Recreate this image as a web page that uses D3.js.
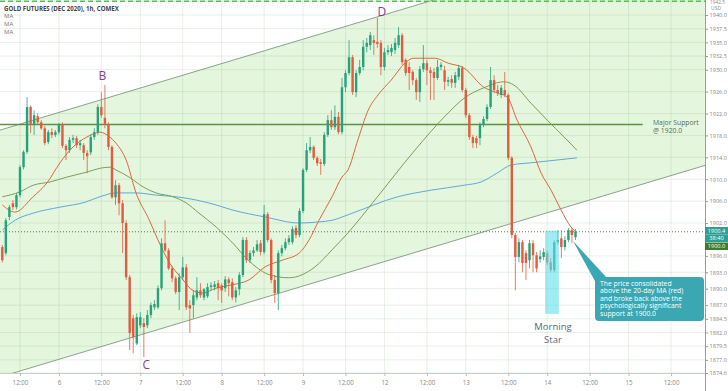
<!DOCTYPE html>
<html><head><meta charset="utf-8">
<script src="https://cdn.jsdelivr.net/npm/d3@7"></script>
<style>body{margin:0;background:#fff}svg{display:block}text{font-family:"Open Sans","DejaVu Sans",sans-serif}</style>
</head><body><svg id="c" width="728" height="391"></svg>
<script>
// ---------- data ----------
const opens=[1897.6,1896.5,1903.1,1905.6,1904.9,1907.1,1912.2,1915.0,1923.2,1919.9,1921.5,1920.4,1919.3,1916.8,1918.6,1918.1,1918.6,1919.9,1916.1,1915.3,1917.2,1917.5,1916.2,1916.2,1914.8,1914.9,1917.7,1918.6,1923.2,1921.2,1919.9,1915.9,1906.7,1908.9,1905.6,1902.0,1892.1,1884.6,1880.0,1883.3,1883.7,1883.3,1885.2,1886.6,1886.6,1890.1,1898.3,1897.0,1893.7,1891.9,1889.4,1892.1,1893.9,1887.0,1887.0,1888.4,1889.7,1888.4,1888.6,1890.3,1890.3,1891.0,1890.6,1890.1,1891.7,1891.2,1888.4,1889.9,1892.5,1898.9,1895.2,1896.5,1897.0,1898.3,1896.7,1903.6,1898.9,1891.6,1889.2,1896.5,1897.4,1898.5,1898.5,1901.1,1899.8,1904.2,1911.7,1915.3,1915.9,1913.9,1913.1,1912.8,1918.1,1920.8,1919.5,1921.4,1918.6,1926.8,1929.4,1932.3,1925.9,1929.4,1930.5,1934.2,1934.5,1935.4,1935.1,1934.9,1930.5,1933.2,1933.2,1933.6,1934.5,1936.3,1931.8,1930.5,1929.6,1928.1,1925.9,1930.1,1931.2,1929.9,1929.6,1928.5,1930.5,1929.9,1927.8,1928.3,1927.6,1928.7,1930.3,1926.3,1921.7,1917.7,1917.5,1917.5,1919.9,1921.0,1923.2,1928.1,1926.3,1925.4,1926.3,1925.4,1913.9,1899.8,1895.8,1898.5,1896.5,1895.2,1898.3,1896.1,1895.4,1895.8,1896.5,1894.8,1893.4,1898.5,1899.2,1897.6,1898.9,1900.7,1899.4];
const highs=[1898.0,1902.9,1905.3,1906.2,1907.5,1912.6,1915.3,1925.0,1923.5,1922.6,1922.1,1920.8,1919.7,1919.0,1919.3,1919.0,1920.3,1920.4,1916.4,1917.7,1918.1,1917.9,1917.2,1916.6,1915.3,1918.2,1919.3,1923.7,1925.9,1927.2,1920.4,1916.2,1909.8,1909.3,1906.2,1902.5,1892.5,1885.2,1885.5,1885.7,1884.6,1886.1,1887.5,1887.9,1890.6,1899.2,1902.5,1897.4,1894.1,1892.3,1892.8,1895.8,1894.5,1887.9,1889.7,1892.1,1891.0,1890.1,1891.0,1891.2,1891.4,1891.6,1891.0,1892.3,1892.1,1891.9,1890.3,1893.0,1899.4,1899.4,1897.0,1897.6,1898.9,1898.9,1905.3,1904.0,1899.2,1892.5,1897.0,1898.0,1899.2,1899.8,1901.4,1901.6,1904.7,1912.0,1916.6,1917.7,1916.2,1914.2,1913.7,1918.6,1921.7,1922.6,1923.5,1922.3,1928.5,1929.9,1935.4,1932.7,1929.9,1931.8,1935.4,1935.8,1936.9,1936.3,1939.5,1935.4,1934.0,1934.5,1934.7,1935.8,1937.8,1936.7,1932.1,1931.4,1929.9,1928.5,1930.7,1934.5,1931.8,1930.5,1930.3,1931.8,1931.4,1930.7,1928.7,1929.0,1929.6,1930.9,1930.7,1926.7,1922.1,1918.1,1917.9,1920.4,1921.5,1923.7,1930.5,1929.0,1927.2,1927.2,1929.6,1925.7,1914.2,1900.2,1899.2,1898.9,1897.0,1898.9,1898.9,1896.7,1897.0,1897.4,1897.0,1895.6,1898.9,1900.7,1900.7,1899.6,1901.1,1901.1,1900.9];
const lows=[1894.8,1896.1,1902.5,1904.4,1904.5,1906.7,1911.8,1914.6,1918.4,1918.1,1919.9,1919.0,1916.2,1916.4,1917.5,1917.7,1918.2,1915.7,1913.5,1914.8,1916.6,1915.7,1915.3,1913.5,1911.1,1914.4,1917.2,1918.1,1921.2,1919.3,1915.3,1906.4,1905.3,1903.4,1896.5,1891.6,1878.8,1878.2,1879.7,1882.8,1877.5,1882.8,1884.6,1886.1,1886.3,1889.7,1896.7,1893.4,1891.2,1889.0,1886.1,1891.6,1886.1,1881.9,1884.6,1887.9,1888.3,1887.9,1888.3,1889.7,1889.7,1887.9,1887.4,1889.4,1888.6,1887.9,1887.5,1888.8,1892.1,1894.7,1894.7,1895.9,1896.7,1896.1,1896.3,1898.5,1891.0,1887.4,1886.1,1895.9,1897.0,1898.0,1898.1,1899.2,1899.4,1903.8,1911.3,1914.8,1913.5,1912.4,1910.8,1912.4,1917.7,1919.0,1919.0,1918.2,1918.2,1925.9,1929.0,1925.4,1925.0,1929.0,1929.9,1933.2,1933.6,1932.7,1934.0,1929.0,1929.9,1932.7,1932.5,1932.9,1934.0,1930.9,1928.9,1926.3,1927.2,1924.5,1924.1,1929.6,1927.2,1924.5,1924.5,1928.1,1929.9,1926.3,1927.0,1926.7,1926.7,1928.1,1925.9,1921.2,1917.2,1915.7,1915.7,1916.2,1919.5,1920.6,1922.8,1925.7,1925.2,1924.8,1925.0,1913.5,1899.2,1889.7,1894.8,1893.0,1891.6,1893.7,1893.0,1893.0,1894.8,1895.2,1894.3,1893.0,1893.0,1898.0,1895.6,1897.0,1898.5,1898.3,1898.9];
const closes=[1895.2,1902.5,1904.9,1904.9,1907.1,1912.2,1915.0,1923.2,1919.9,1921.7,1920.4,1919.3,1916.6,1918.6,1918.1,1918.6,1919.9,1916.1,1915.3,1917.2,1917.5,1916.2,1916.6,1914.8,1914.2,1917.7,1918.6,1923.2,1921.7,1919.9,1915.9,1906.7,1908.9,1905.6,1902.0,1892.1,1881.9,1881.1,1884.8,1884.8,1883.0,1885.2,1887.0,1887.2,1890.1,1898.3,1897.0,1893.7,1891.9,1889.4,1892.1,1893.9,1886.6,1886.4,1888.8,1889.7,1888.8,1889.9,1890.3,1890.6,1890.8,1890.1,1889.7,1891.7,1891.0,1888.4,1889.7,1892.5,1898.9,1895.2,1896.5,1897.0,1898.1,1896.7,1903.6,1898.9,1891.6,1889.2,1896.5,1897.4,1898.5,1899.2,1900.9,1899.8,1904.2,1911.7,1915.3,1915.9,1913.9,1912.9,1912.8,1918.1,1920.8,1919.5,1921.4,1918.6,1926.8,1929.4,1932.3,1925.9,1929.4,1930.5,1934.2,1934.9,1936.3,1934.9,1934.7,1930.5,1933.2,1933.6,1934.0,1934.9,1936.3,1931.4,1929.4,1929.4,1928.1,1925.9,1930.1,1931.2,1929.9,1929.4,1928.5,1930.5,1930.9,1927.8,1928.1,1927.6,1929.0,1930.3,1926.3,1921.7,1917.7,1916.6,1916.6,1919.9,1921.0,1923.2,1928.1,1926.3,1925.7,1926.7,1925.4,1913.9,1899.8,1895.8,1898.5,1894.7,1894.7,1898.3,1896.1,1893.7,1895.9,1896.7,1894.8,1893.4,1898.5,1898.9,1897.6,1898.9,1900.7,1899.8,1900.4];

// moving averages: [bar index, price]
const ma20=[[0,1905.3],[3.6,1904.0],[8.7,1906.8],[12.6,1909.3],[16.3,1913.0],[19.7,1915.7],[23.9,1917.7],[27.6,1918.6],[30.4,1917.7],[32.1,1916.6],[35,1913.5],[37.8,1907.5],[41.5,1902.6],[44,1898.9],[47.1,1894.9],[51.1,1891.6],[53.6,1889.8],[56.7,1889.2],[60.4,1890.1],[64.9,1890.7],[69.7,1891.6],[74.3,1894.0],[79.1,1895.2],[83.9,1896.5],[86.7,1898.9],[89.5,1902.5],[93.2,1906.8],[96,1910.4],[97.7,1911.7],[100.5,1917.2],[103.4,1922.6],[106.2,1925.4],[109.9,1928.1],[113.8,1931.2],[116.1,1932.1],[122.3,1932.1],[126,1931.2],[130.5,1930.3],[136.1,1926.8],[139.8,1925.8],[142.7,1925.0],[145.5,1920.8],[149.4,1915.9],[152.3,1911.1],[155.1,1908.0],[157.9,1904.4],[160.7,1901.3],[162.4,1900.2]];
const ma50=[[0,1906.8],[5,1907.7],[8.7,1908.9],[13.5,1909.5],[18.3,1910.4],[23.9,1911.3],[27.6,1912.0],[30.4,1912.2],[32.1,1911.7],[35.8,1910.4],[39.8,1908.6],[43.4,1907.5],[48.2,1906.8],[51.9,1905.7],[55.6,1903.8],[60.4,1901.3],[64.9,1898.5],[70,1894.9],[75.7,1892.5],[81,1892.0],[88.4,1894.0],[93.2,1897.1],[97.7,1900.2],[105.3,1906.2],[116.6,1915.3],[126,1922.1],[130.5,1924.8],[136.1,1926.7],[141.8,1927.8],[144.6,1927.2],[149.4,1923.9],[154,1920.8],[158.8,1917.7],[162.4,1915.3]];
const ma100=[[0,1900.7],[3.6,1902.5],[8.7,1903.8],[16.3,1904.9],[23.4,1905.8],[27.6,1906.8],[32.1,1907.5],[37.8,1907.5],[43.4,1907.1],[49.1,1906.8],[54.8,1906.2],[60.4,1905.3],[64.9,1904.4],[74.3,1903.1],[83.9,1902.0],[89.5,1902.2],[93.2,1902.5],[97.7,1903.5],[111.8,1906.8],[121.2,1908.0],[130.5,1908.9],[135.3,1909.5],[139.8,1911.1],[143.8,1912.6],[149.4,1913.0],[162.4,1913.9]];

const xTickIdx=[5,16,28,39,51,62,74,85,97,108,120,131,143,154,166,177,189];
const xTickLabels=["12:00","6","12:00","7","12:00","8","12:00","9","12:00","12","12:00","13","12:00","14","12:00","15","12:00"];
const yTicks=[1942.5,1940.0,1937.5,1935.0,1932.5,1930.0,1926.0,1922.0,1918.0,1914.0,1910.0,1906.0,1902.0,1896.0,1893.0,1890.0,1887.0,1884.5,1882.0,1879.5,1877.0,1874.6];

// channel (index, upper price, lower price)
const channelIdx=[-1,200];
const channelUpper=[1918.9,1957.9];
const channelLower=[1873.8,1912.8];
const supportLevel=1920.0;
const topLevel=1942.5;
const lastPrice=1900.4;
const pivots=[{t:"B",i:28.3,v:1928.1},{t:"C",i:40.7,v:1875.3},{t:"D",i:107.3,v:1939.9}];
const morningStar={from:153.4,to:157.3,top:1900.6,bottom:1885.4};
const noteLines=["The price consolidated","above the 20-day MA (red)","and broke back above the","psychologically significant","support at 1900.0"];

// ---------- scales ----------
const PR=705, PB=373;
const LS='"Liberation Sans",Arial,sans-serif';
const x=d3.scaleLinear().domain([0,162]).range([2.3,575.5]);
const y=d3.scaleLinear().domain([1874.6,1940]).range([373,15]);
const svg=d3.select('#c');
svg.append('rect').attr('width',728).attr('height',391).attr('fill','#fff');
svg.append('defs').append('clipPath').attr('id','clip').append('rect').attr('x',0).attr('y',0).attr('width',PR).attr('height',PB);
const plot=svg.append('g').attr('clip-path','url(#clip)');

// channel fill
const chData=channelIdx.map((d,k)=>({i:d,hi:channelUpper[k],lo:channelLower[k]}));
plot.append('path').datum(chData)
  .attr('d',d3.area().x(d=>x(d.i)).y0(d=>y(d.lo)).y1(d=>y(d.hi)))
  .attr('fill','#e4f6dd');

// grid
plot.append('g').selectAll('line').data(yTicks).join('line')
  .attr('x1',0).attr('x2',PR).attr('y1',d=>y(d)).attr('y2',d=>y(d))
  .attr('stroke','rgba(110,160,110,0.16)').attr('stroke-width',1);
plot.append('g').selectAll('line').data(xTickIdx).join('line')
  .attr('x1',d=>x(d)).attr('x2',d=>x(d)).attr('y1',0).attr('y2',PB)
  .attr('stroke','rgba(110,160,110,0.16)').attr('stroke-width',1);

// channel lines
['hi','lo'].forEach(k=>{
  plot.append('path').datum(chData)
    .attr('d',d3.line().x(d=>x(d.i)).y(d=>y(d[k])))
    .attr('fill','none').attr('stroke','#8aa38a').attr('stroke-width',1);
});

// top dashed level
plot.append('line').attr('x1',0).attr('x2',PR).attr('y1',y(topLevel)).attr('y2',y(topLevel))
  .attr('stroke','#5cb85c').attr('stroke-width',1.5).attr('stroke-dasharray','5,3');
// support
plot.append('line').attr('x1',0).attr('x2',x(181)).attr('y1',y(supportLevel)).attr('y2',y(supportLevel))
  .attr('stroke','#5a9440').attr('stroke-width',1.5);
// last price dotted line
plot.append('line').attr('x1',0).attr('x2',PR).attr('y1',y(lastPrice)).attr('y2',y(lastPrice))
  .attr('stroke','#4f7f4f').attr('stroke-width',1).attr('stroke-dasharray','1,2');

// MAs
const maLine=d3.line().x(d=>x(d[0])).y(d=>y(d[1])).curve(d3.curveMonotoneX);
[[ma100,'#5eaad8'],[ma50,'#7f9e58'],[ma20,'#e0683c']].forEach(([d,c])=>{
  plot.append('path').datum(d).attr('d',maLine).attr('fill','none').attr('stroke',c).attr('stroke-width',1);
});

// candles
const idx=d3.range(opens.length);
const up='#26a17b', dn='#e35b3f', bw=2.4;
const cg=plot.append('g');
cg.selectAll('line').data(idx).join('line')
  .attr('x1',i=>x(i)).attr('x2',i=>x(i)).attr('y1',i=>y(highs[i])).attr('y2',i=>y(lows[i]))
  .attr('stroke',i=>closes[i]>=opens[i]?up:dn).attr('stroke-width',0.8);
cg.selectAll('rect').data(idx).join('rect')
  .attr('x',i=>x(i)-bw/2).attr('width',bw)
  .attr('y',i=>y(Math.max(opens[i],closes[i])))
  .attr('height',i=>Math.max(0.8,Math.abs(y(opens[i])-y(closes[i]))))
  .attr('fill',i=>closes[i]>=opens[i]?up:dn);

// morning star highlight
plot.append('rect').attr('x',x(morningStar.from)).attr('width',x(morningStar.to)-x(morningStar.from))
  .attr('y',y(morningStar.top)).attr('height',y(morningStar.bottom)-y(morningStar.top))
  .attr('fill','#5fe0ea').attr('opacity',0.6);

// pivot letters
svg.selectAll('text.pv').data(pivots).join('text').attr('class','pv')
  .attr('x',d=>x(d.i)).attr('y',d=>y(d.v)).attr('text-anchor','middle')
  .attr('font-size',12).attr('fill','#8e3b8c').text(d=>d.t);

// support label
svg.append('text').attr('x',653).attr('y',125).attr('font-size',6.8).attr('font-family',LS).attr('fill','#5b6b5b').text('Major Support');
svg.append('text').attr('x',653).attr('y',132.6).attr('font-size',6.8).attr('font-family',LS).attr('fill','#5b6b5b').text('@ 1920.0');

// morning star label
svg.append('text').attr('x',553).attr('y',330.2).attr('text-anchor','middle').attr('font-size',9.5).attr('font-family',LS).attr('fill','#5b6878').text('Morning');
svg.append('text').attr('x',553).attr('y',342.6).attr('text-anchor','middle').attr('font-size',9.5).attr('font-family',LS).attr('fill','#5b6878').text('Star');

// callout
const cb=svg.append('g');
cb.append('path').attr('d','M573,241 L607,278 L596,283 Z').attr('fill','#3aa7b3');
cb.append('rect').attr('x',595).attr('y',277).attr('width',109).attr('height',44).attr('rx',4).attr('fill','#3aa7b3');
cb.selectAll('text').data(noteLines).join('text')
  .attr('x',600).attr('y',(d,k)=>285.6+k*7.6).attr('font-size',6.8).attr('font-family',LS).attr('fill','#fff').text(d=>d);

// title & legend
svg.append('text').attr('x',4).attr('y',10.5).attr('font-size',6.1).attr('font-weight',700).attr('fill','#444').text('GOLD FUTURES (DEC 2020), 1h, COMEX');
['MA','MA','MA'].forEach((t,k)=>svg.append('text').attr('x',4).attr('y',17.5+k*8.3).attr('font-size',6).attr('fill','#777').text(t));

// axes
svg.append('line').attr('x1',PR+0.5).attr('x2',PR+0.5).attr('y1',0).attr('y2',391).attr('stroke','#9aa09a');
svg.append('line').attr('x1',0).attr('x2',PR).attr('y1',PB+0.5).attr('y2',PB+0.5).attr('stroke','#c8cec8');
const ya=svg.append('g').attr('transform',`translate(${PR},0)`)
  .call(d3.axisRight(y).tickValues(yTicks.filter(v=>v<1942)).tickSize(3).tickPadding(1.5).tickFormat(d3.format('.1f')));
ya.select('.domain').remove();
ya.selectAll('text').attr('font-size',5.6).attr('fill','#888').attr('font-family',LS);
ya.selectAll('line').attr('stroke','#999');
svg.append('text').attr('x',710).attr('y',4.4).attr('font-size',4.8).attr('font-family',LS).attr('fill','#888').text(d3.format('.1f')(yTicks[0]));
svg.append('text').attr('x',711).attr('y',10).attr('font-size',5).attr('font-family',LS).attr('fill','#888').text('USD');
const xa=svg.append('g').attr('transform',`translate(0,${PB})`)
  .call(d3.axisBottom(x).tickValues(xTickIdx).tickSize(3).tickPadding(5).tickFormat((d,k)=>xTickLabels[k]));
xa.select('.domain').remove();
xa.selectAll('text').attr('font-size',6.2).attr('fill','#888').attr('font-family','"Open Sans",sans-serif');
xa.selectAll('line').attr('stroke','#bbb');

// price tags
const tags=[{t:'1900.4',y0:227,c:'#2f9f95'},{t:'38:40',y0:234.5,c:'#2f9f95'},{t:'1900.0',y0:242.5,c:'#3b7d2a'}];
tags.forEach(g=>{
  svg.append('rect').attr('x',PR).attr('y',g.y0).attr('width',23).attr('height',7.5).attr('fill',g.c);
  svg.append('text').attr('x',PR+11.5).attr('y',g.y0+5.6).attr('text-anchor','middle').attr('font-size',5.6).attr('font-family',LS).attr('fill','#fff').text(g.t);
});
</script></body></html>
